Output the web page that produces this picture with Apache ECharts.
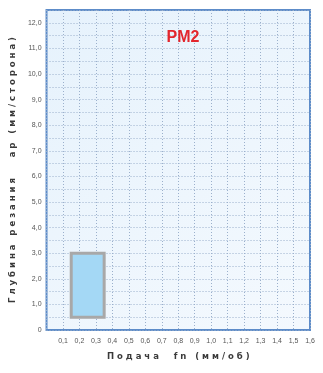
<!DOCTYPE html>
<html>
<head>
<meta charset="utf-8">
<script src="https://cdn.jsdelivr.net/npm/echarts@6/dist/echarts.min.js"></script>
<style>
  html, body { margin: 0; padding: 0; background: #ffffff; }
  #chart { width: 323px; height: 373px; }
</style>
</head>
<body>
<div id="chart"></div>
<script>
// Recommended working window for the PM2 chipbreaker
const gradeName = 'PM2';
const feedRange = [0.15, 0.35];   // fn, mm/rev
const depthRange = [0.5, 3.0];    // ap, mm/side
const feedTicks = [0.1, 0.2, 0.3, 0.4, 0.5, 0.6, 0.7, 0.8, 0.9, 1.0, 1.1, 1.2, 1.3, 1.4, 1.5, 1.6];
const depthTicks = [0, 1, 2, 3, 4, 5, 6, 7, 8, 9, 10, 11, 12];
const xTitle = 'Подача  fn (мм/об)';
const yTitle = 'Глубина резания   ap (мм/сторона)';

// spread letters out to get the tracked-out heading look
const spaced = s => s.split('').join(' ');
const fmt = v => v === 0 ? '0' : v.toFixed(1).replace('.', ',');

const chart = echarts.init(document.getElementById('chart'));
chart.setOption({
  animation: false,
  grid: {
    left: 45, right: 13, top: 10, bottom: 43,
    show: true,
    borderColor: '#5d8cc9',
    borderWidth: 2,
    backgroundColor: new echarts.graphic.LinearGradient(0, 0, 1, 1, [
      { offset: 0, color: '#e6f2fc' },
      { offset: 1, color: '#f4f9fe' }
    ])
  },
  title: {
    text: gradeName,
    left: 178, top: 25,
    textAlign: 'center',
    textStyle: { color: '#e3262d', fontSize: 16, fontWeight: 'bold', fontFamily: 'Liberation Sans, Arial, sans-serif' }
  },
  xAxis: {
    type: 'value', min: 0, max: 1.6, interval: 0.1,
    name: spaced(xTitle), nameLocation: 'middle', nameGap: 22,
    nameTextStyle: { color: '#3a3a3a', fontSize: 8.5, fontWeight: 'bold', fontFamily: 'DejaVu Sans, sans-serif' },
    axisLine: { show: false }, axisTick: { show: false },
    axisLabel: {
      color: '#555', fontSize: 7, margin: 8, fontFamily: 'Liberation Sans, Arial, sans-serif',
      formatter: v => {
        const r = Math.round(v * 10) / 10;
        return feedTicks.includes(r) ? r.toFixed(1).replace('.', ',') : '';
      }
    },
    splitLine: { show: true, lineStyle: { color: '#9bb0cc', type: [1, 2], width: 1 } }
  },
  yAxis: {
    type: 'value', min: 0, max: 12.5, interval: 0.5,
    name: spaced(yTitle), nameLocation: 'middle', nameGap: 24,
    nameTextStyle: { color: '#3a3a3a', fontSize: 8.5, fontWeight: 'bold', fontFamily: 'DejaVu Sans, sans-serif' },
    axisLine: { show: false }, axisTick: { show: false },
    axisLabel: {
      color: '#555', fontSize: 7, margin: 5, fontFamily: 'Liberation Sans, Arial, sans-serif',
      formatter: v => depthTicks.includes(v) ? fmt(v) : ''
    },
    splitLine: { show: true, lineStyle: { color: '#9bb0cc', type: [1, 2], width: 1 } }
  },
  series: [{
    type: 'custom',
    renderItem: (params, api) => {
      const p0 = api.coord([api.value(0), api.value(3)]);
      const p1 = api.coord([api.value(1), api.value(2)]);
      return {
        type: 'rect',
        shape: { x: p0[0], y: p0[1], width: p1[0] - p0[0], height: p1[1] - p0[1] },
        style: { fill: '#a4d8f5', stroke: '#a8a8a8', lineWidth: 3 }
      };
    },
    data: [[feedRange[0], feedRange[1], depthRange[0], depthRange[1]]],
    z: 5
  }]
});
</script>
</body>
</html>
